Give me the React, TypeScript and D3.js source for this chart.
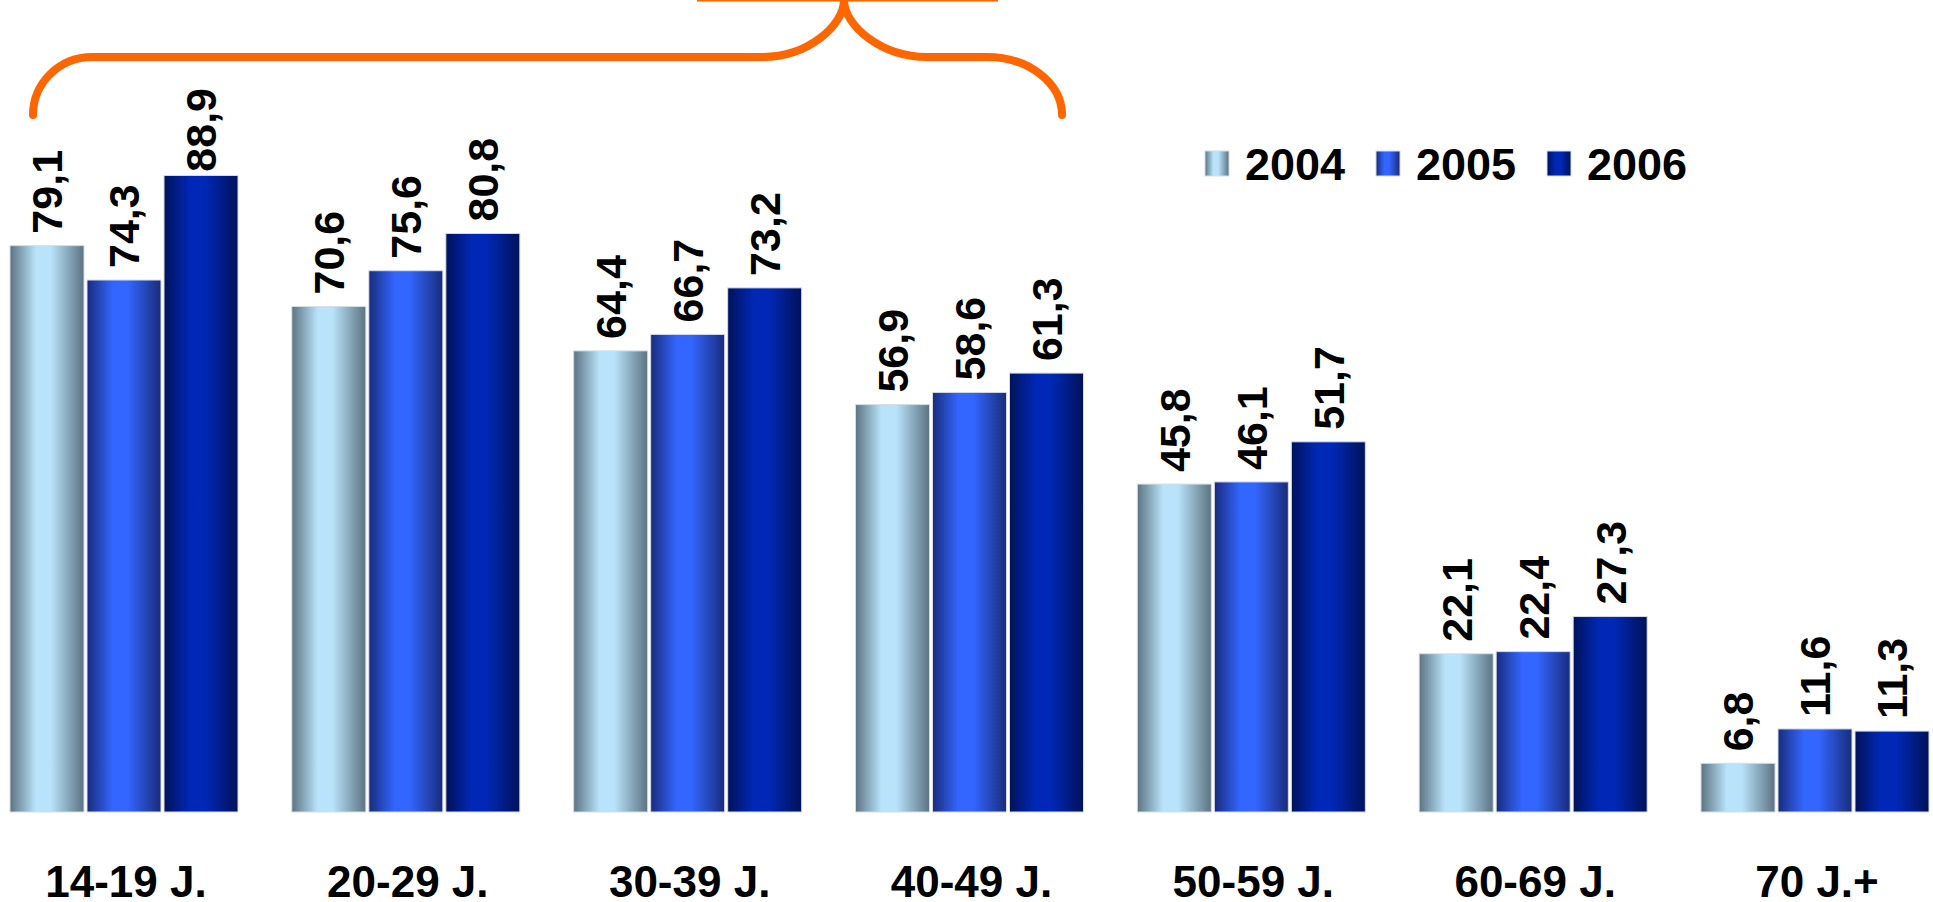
import React from "react";
import * as d3 from "d3";

const categories = ["14-19 J.", "20-29 J.", "30-39 J.", "40-49 J.", "50-59 J.", "60-69 J.", "70 J.+"];
const years = ["2004", "2005", "2006"];
const values2004 = [79.1, 70.6, 64.4, 56.9, 45.8, 22.1, 6.8];
const values2005 = [74.3, 75.6, 66.7, 58.6, 46.1, 22.4, 11.6];
const values2006 = [88.9, 80.8, 73.2, 61.3, 51.7, 27.3, 11.3];
const seriesValues = [values2004, values2005, values2006];

const gradientStops = [
  { edge: "#5C7382", mid: "#B9E3FA" },
  { edge: "#192C7C", mid: "#3366FF" },
  { edge: "#00125A", mid: "#0028B6" },
];

const W = 1933;
const H = 902;
const FONT = "'Liberation Sans', Arial, Helvetica, sans-serif";
const LABEL_SIZE = 43;
const PLOT_TOP = 88;

export default function App() {
  const x0 = d3.scaleBand<string>().domain(categories).range([10, 1929]).paddingInner(0.191).paddingOuter(0);
  const x1 = d3.scaleBand<string>().domain(years).range([0, x0.bandwidth()]).paddingInner(0.039).paddingOuter(0);
  const y = d3.scaleLinear().domain([0, 100]).range([812, 96]);

  const fmt = (v: number) => v.toFixed(1).replace(".", ",");
  const labelLen = (s: string) => {
    let w = 0;
    for (const ch of s) w += ch === "," ? 0.278 : 0.556;
    return w * LABEL_SIZE;
  };

  const brace = d3.path();
  brace.moveTo(33, 115);
  brace.bezierCurveTo(33, 83, 59.4, 57, 92, 57);
  brace.lineTo(763, 57);
  brace.bezierCurveTo(807.7, 57, 844, 25.5, 844, 0);
  brace.bezierCurveTo(844, 25.5, 881, 57, 927, 57);
  brace.lineTo(987, 57);
  brace.bezierCurveTo(1028.4, 57, 1062, 83, 1062, 115);

  return (
    <svg width={W} height={H} style={{ position: "absolute", left: 0, top: 0, background: "#fff" }} fontFamily={FONT}>
      <defs>
        {gradientStops.map((g, i) => (
          <linearGradient key={i} id={`grad${i}`} x1="0" x2="1" y1="0" y2="0">
            <stop offset="0%" stopColor={g.edge} />
            <stop offset="35%" stopColor={g.mid} />
            <stop offset="55%" stopColor={g.mid} />
            <stop offset="100%" stopColor={g.edge} />
          </linearGradient>
        ))}
      </defs>

      <line x1={697} x2={998} y1={0} y2={0} stroke="#FF6600" strokeWidth={3} />
      <path d={brace.toString()} fill="none" stroke="#FF6600" strokeWidth={8} strokeLinecap="round" strokeLinejoin="round" />

      {categories.map((c, ci) => (
        <g key={c} transform={`translate(${x0(c)},0)`}>
          {years.map((yr, si) => {
            const v = seriesValues[si][ci];
            const bx = x1(yr) as number;
            const bw = x1.bandwidth();
            const txt = fmt(v);
            const len = labelLen(txt);
            let start = y(v) - 12;
            if (start - len < PLOT_TOP) start = PLOT_TOP + len;
            return (
              <g key={yr}>
                <rect x={bx} y={y(v)} width={bw} height={y(0) - y(v)} fill={`url(#grad${si})`} stroke="#D5DCE4" strokeWidth={1} />
                <text
                  transform={`translate(${bx + bw / 2},${start}) rotate(-90)`}
                  dy="0.36em"
                  fontSize={LABEL_SIZE}
                  fontWeight="bold"
                  fill="#000"
                >
                  {txt}
                </text>
              </g>
            );
          })}
          <text x={x0.bandwidth() / 2 + 2} y={897} textAnchor="middle" fontSize={44} fontWeight="bold" fill="#000">
            {c}
          </text>
        </g>
      ))}

      {years.map((yr, i) => (
        <g key={yr} transform={`translate(${1205 + i * 171},151)`}>
          <rect x={0} y={0} width={24} height={25} fill={`url(#grad${i})`} stroke="#D5DCE4" strokeWidth={1} />
          <text x={40} y={29} fontSize={45} fontWeight="bold" fill="#000">
            {yr}
          </text>
        </g>
      ))}
    </svg>
  );
}
